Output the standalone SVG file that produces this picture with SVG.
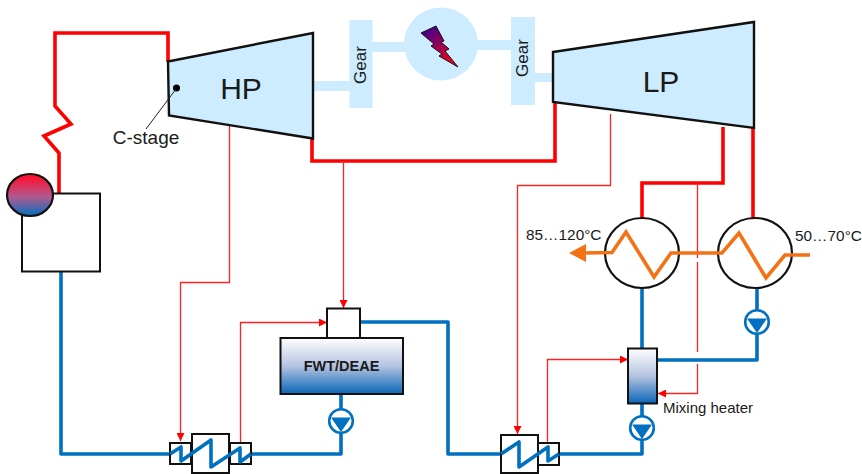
<svg xmlns="http://www.w3.org/2000/svg" width="862" height="474" viewBox="0 0 862 474">
<style>
text{font-family:"Liberation Sans",Arial,sans-serif;fill:#1a1a1a}
.st{fill:none;stroke:#f00;stroke-width:3.6;stroke-linejoin:miter}
.ex{fill:none;stroke:#f22;stroke-width:1.3}
.wa{fill:none;stroke:#0070c0;stroke-width:3.6;stroke-linejoin:round}
.or{fill:none;stroke:#f47216;stroke-width:3.6}
.box{fill:#fff;stroke:#111;stroke-width:2}
.tur{fill:#cdecff;stroke:#111;stroke-width:2.4}
.lb{fill:#cdecff}
.pump{fill:#fff;stroke:#0070c0;stroke-width:2.6}
.hx{fill:#fff;stroke:#111;stroke-width:2.2}
</style>
<defs>
<linearGradient id="rb" x1="0" y1="0" x2="0" y2="1"><stop offset="0.05" stop-color="#ff0f2d"/><stop offset="0.55" stop-color="#b05a90"/><stop offset="1" stop-color="#0070c0"/></linearGradient>
<linearGradient id="wb" x1="0" y1="0" x2="0" y2="1"><stop offset="0" stop-color="#fff"/><stop offset="0.5" stop-color="#b4c3e0"/><stop offset="1" stop-color="#0a66b8"/></linearGradient>
<linearGradient id="bolt" x1="0" y1="0" x2="0.6" y2="1"><stop offset="0" stop-color="#2a0099"/><stop offset="1" stop-color="#f00020"/></linearGradient>
<marker id="ar" viewBox="0 0 10 10" refX="10" refY="5" markerWidth="8" markerHeight="8" markerUnits="userSpaceOnUse" orient="auto"><path d="M0 0L10 5L0 10z" fill="#f00"/></marker>
<g id="pumpSym"><circle r="11.8" class="pump"/><path d="M-10-3.500H10L0 11z" fill="#0070c0"/></g>
</defs>
<g id="shafts">
<rect class="lb" x="313" y="81" width="37" height="10"/>
<rect class="lb" x="372" y="42" width="34" height="10"/>
<rect class="lb" x="476" y="40" width="36" height="10"/>
<rect class="lb" x="534" y="73" width="20" height="9"/>
</g>
<g id="connectors">
<path class="st" d="M168 62V33H55V106L71 124L44 136L59 153V194"/>
<path class="st" d="M312 138V161H555V102"/>
<path class="st" d="M642 218V183H723V127"/>
<path class="st" d="M753 218V128"/>
<path class="ex" d="M229.500 126V282.500H180.500V441" marker-end="url(#ar)"/>
<path class="ex" d="M240.500 443V322.500H327" marker-end="url(#ar)"/>
<path class="ex" d="M343.500 161V308" marker-end="url(#ar)"/>
<path class="ex" d="M610.500 114V185.500H517.500V434" marker-end="url(#ar)"/>
<path class="ex" d="M547.500 443V359.500H628" marker-end="url(#ar)"/>
<path class="ex" d="M697.500 183V258M697.500 262V352M697.500 364V393.500H658" marker-end="url(#ar)"/>
<path class="wa" d="M61 271V454H170"/>
<path class="wa" d="M251 454H341V394"/>
<path class="wa" d="M360 322H448V454H501"/>
<path class="wa" d="M559 454H642V403"/>
<path class="wa" d="M642 348V288"/>
<path class="wa" d="M657 360H757V288"/>
</g>
<g id="hp"><path class="tur" d="M168 61.500L313 33V138.500L169 115.500Z"/><text x="241" y="99" font-size="30" text-anchor="middle">HP</text></g>
<g id="c-stage"><circle cx="176.500" cy="88" r="3.500" fill="#000"/><path d="M176 89L146 129" stroke="#222" stroke-width="1" fill="none"/><text x="146" y="144" font-size="19" text-anchor="middle">C-stage</text></g>
<g id="gear-left"><rect class="lb" x="349.500" y="20" width="23" height="88"/><text transform="translate(366,65) rotate(-90)" font-size="17" text-anchor="middle">Gear</text></g>
<g id="gear-right"><rect class="lb" x="511" y="17" width="24" height="88"/><text transform="translate(528,58) rotate(-90)" font-size="17" text-anchor="middle">Gear</text></g>
<g id="generator"><ellipse class="lb" cx="441" cy="44" rx="37" ry="36.500"/><path d="M421 33L436 26L444 41L441 42L449 49L445 51L458 67L439 56L442 54L431 46L434 44Z" fill="url(#bolt)" stroke="#111" stroke-width="1"/></g>
<g id="lp"><path class="tur" d="M553 52L754 22V128L553 102Z"/><text x="661" y="92" font-size="30" text-anchor="middle">LP</text></g>
<g id="boiler"><rect class="box" x="22" y="193.500" width="78" height="78"/><ellipse cx="30" cy="195" rx="23" ry="21" fill="url(#rb)" stroke="#111" stroke-width="2.2"/></g>
<g id="district-heater-1"><ellipse class="hx" cx="642" cy="253" rx="37" ry="35"/></g>
<g id="district-heater-2"><ellipse class="hx" cx="755" cy="253" rx="37" ry="35"/></g>
<g id="district-line">
<path class="or" d="M584 253L612 252.500L626 232L654 277L671 253H722L739 233L766 278L785 255H810"/>
<path d="M569 253L586 244V262Z" fill="#f47216"/>
<text x="526" y="240" font-size="15.400">85…120°C</text>
<text x="795" y="241" font-size="15.400">50…70°C</text>
</g>
<g id="pump-district" transform="translate(757,322)"><use href="#pumpSym"/></g>
<g id="mixing-heater"><rect x="628" y="348.500" width="29" height="55" fill="url(#wb)" stroke="#111" stroke-width="2"/><text x="663" y="413" font-size="15">Mixing heater</text></g>
<g id="pump-mixing" transform="translate(642,428)"><use href="#pumpSym"/></g>
<g id="fwt-deae"><rect class="box" x="327" y="308.500" width="33" height="30"/><rect x="280.500" y="338" width="122.500" height="56" fill="url(#wb)" stroke="#111" stroke-width="2"/><text x="341.500" y="371" font-size="14.500" font-weight="bold" text-anchor="middle">FWT/DEAE</text></g>
<g id="pump-fwt" transform="translate(341,421)"><use href="#pumpSym"/></g>
<g id="preheater-left">
<rect class="box" x="170" y="443" width="21" height="21"/><rect class="box" x="192" y="434" width="37" height="39"/><rect class="box" x="230" y="443" width="21" height="21"/>
<path class="wa" d="M170 454L181 447V461L211 440V467L240 448V462L251 454" stroke-linejoin="miter"/>
</g>
<g id="preheater-right">
<rect class="box" x="501" y="435" width="37" height="38"/><rect class="box" x="538" y="443" width="21" height="22"/>
<path class="wa" d="M501 454L519 442V467L548 447V461L559 454" stroke-linejoin="miter"/>
</g>
</svg>
